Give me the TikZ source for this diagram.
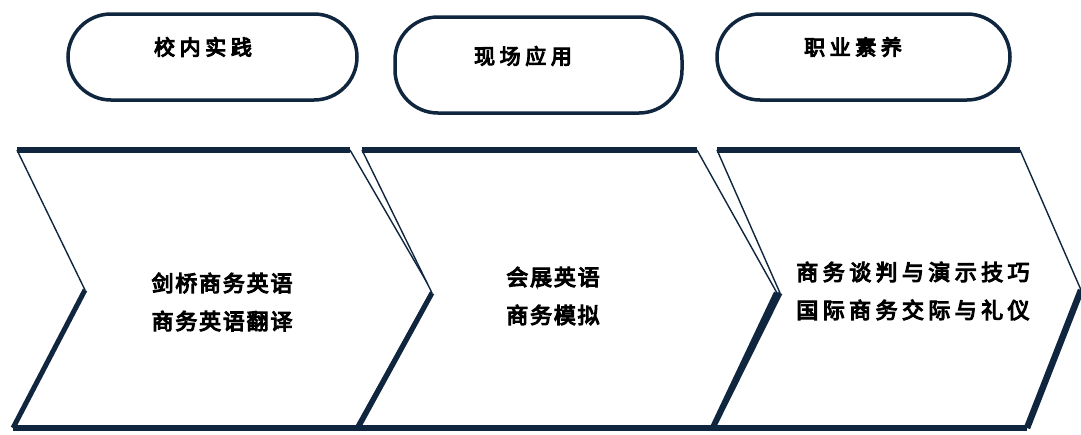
\documentclass[tikz,border=0pt]{standalone}
\usepackage{fontspec}
\newfontfamily\cjk{Noto Sans CJK SC}[FakeBold=5]
\definecolor{navy}{HTML}{10263F}
\tikzset{
  x=1pt,y=-1pt,
  thinedge/.style={draw=navy,line width=1.4pt},
  thickedge/.style={draw=navy,line width=6pt},
  pillbox/.style={draw=navy,line width=3.5pt,fill=white,rounded corners=43pt},
  lbl/.style={font=\cjk\fontsize{22}{38}\selectfont,text=black,align=center,inner sep=0pt},
  toplbl/.style={font=\cjk\fontsize{21}{22}\selectfont,text=black,inner sep=0pt}
}
\begin{document}
\begin{tikzpicture}
\useasboundingbox (0,0) rectangle (1081,434);
\fill[white] (0,0) rectangle (1081,434);
% pills
\draw[pillbox] (68,14) rectangle (357,100);
\draw[pillbox] (395,17) rectangle (682,113);
\draw[pillbox] (717,14) rectangle (1010,100);
\node[toplbl] (p1) at (203,47) {\addfontfeature{LetterSpace=22}校内实践};
\node[toplbl] (p2) at (523,56) {\addfontfeature{LetterSpace=22}现场应用};
\node[toplbl] (p3) at (853,47) {\addfontfeature{LetterSpace=22}职业素养};
% chevron coordinates
\coordinate (a1) at (17,150); \coordinate (b1) at (350,150);
\coordinate (c1) at (433,293); \coordinate (d1) at (358,428);
\coordinate (e1) at (13,428); \coordinate (f1) at (85,290);
\coordinate (a2) at (362,150); \coordinate (b2) at (697,150);
\coordinate (c2) at (777,293); \coordinate (d2) at (713,428);
\coordinate (e2) at (358,428); \coordinate (f2) at (432,293);
\coordinate (a3) at (717,150); \coordinate (b3) at (1020,150);
\coordinate (c3) at (1081,290); \coordinate (d3) at (1027,428);
\coordinate (e3) at (713,428); \coordinate (f3) at (780,293);
\foreach \i in {1,2,3}{
  \fill[white] (a\i) -- (b\i) -- (c\i) -- (d\i) -- (e\i) -- (f\i) -- cycle;
  \draw[thinedge] (f\i) -- (a\i);
  \draw[thinedge] (b\i) -- (c\i);
  \draw[thickedge,line cap=butt] (a\i) -- (b\i);
  \draw[thickedge,line width=5pt] (f\i) -- (e\i);
  \draw[thickedge,line width=6.5pt] (c\i) -- (d\i);
}
\draw[thickedge] (e1) -- (d3);
% texts
\node[lbl] (t1) at (222,302) {\addfontfeature{LetterSpace=8}剑桥商务英语\\\addfontfeature{LetterSpace=8}商务英语翻译};
\node[lbl] (t2) at (553,296) {\addfontfeature{LetterSpace=8}会展英语\\\addfontfeature{LetterSpace=8}商务模拟};
\node[lbl] (t3) at (913,291) {\addfontfeature{LetterSpace=20}商务谈判与演示技巧\\\addfontfeature{LetterSpace=20}国际商务交际与礼仪};
\end{tikzpicture}
\end{document}
